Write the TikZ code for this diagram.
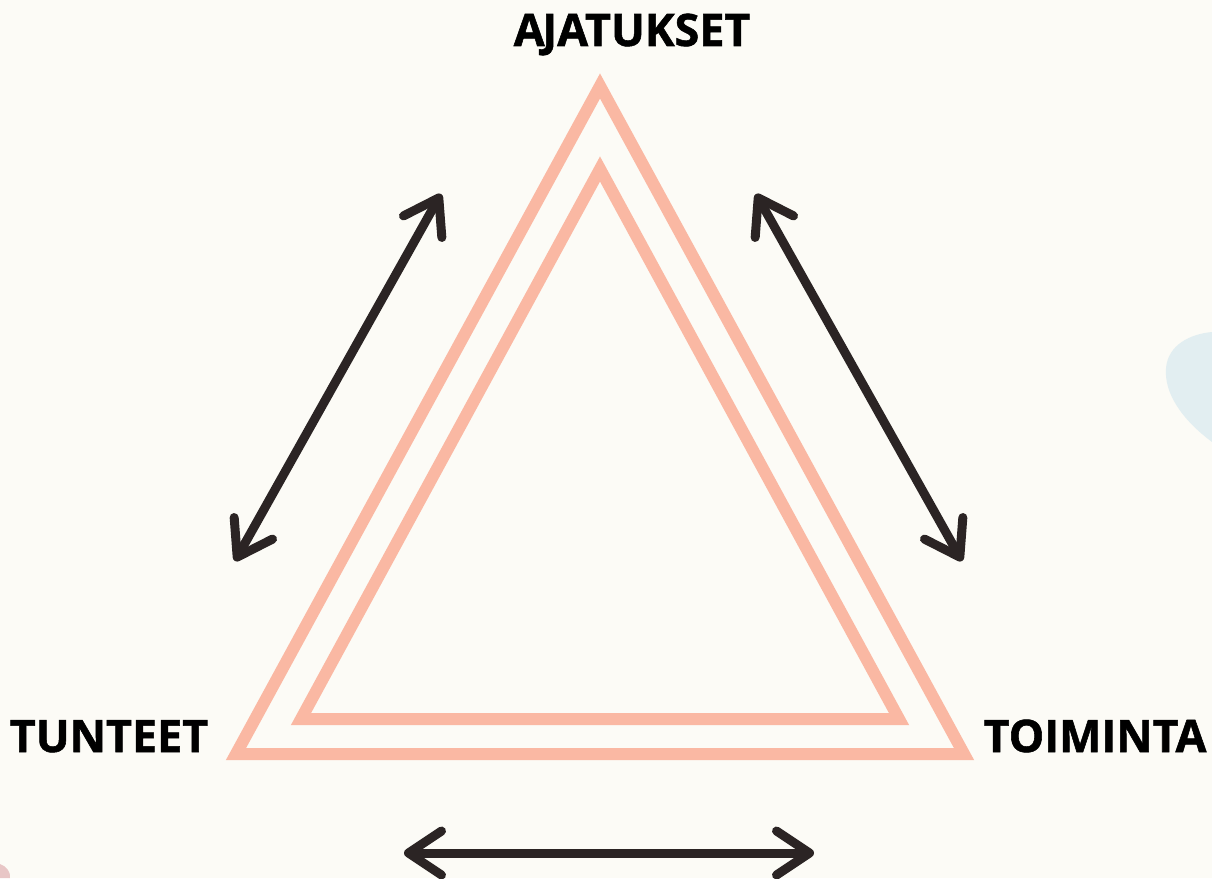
\documentclass[tikz,border=0pt]{standalone}
\usepackage{fontspec}
\setmainfont{Open Sans}[BoldFeatures={FakeBold=1.2}]
\usepackage{tikz}
\usetikzlibrary{arrows.meta, positioning}

\definecolor{paper}{HTML}{FCFBF6}
\definecolor{salmon}{HTML}{FAB8A3}
\definecolor{ink}{HTML}{2B2424}
\definecolor{wash}{HTML}{E2EEF1}
\definecolor{blush}{HTML}{E8C6C6}

\begin{document}
\begin{tikzpicture}[
    x=0.02cm, y=-0.02cm,
    frame/.style={draw=salmon, line width=0.24cm, line join=miter},
    arrow/.style={draw=ink, line width=0.18cm, line cap=round, <->,
        >={Straight Barb[length=0.66cm, width=0.88cm, line width=0.18cm, round]}},
    corner/.style={font=\fontsize{25.5}{30}\selectfont\bfseries, text=black, anchor=base, inner sep=0pt}
]
    % page
    \fill[paper] (0,0) rectangle (1212,878);
    \useasboundingbox (0,0) rectangle (1212,878);

    % watercolour bits at the edges
    \fill[wash] (1212,332) .. controls (1190,334) and (1168,345) .. (1166,368)
        .. controls (1164,392) and (1180,418) .. (1212,442) -- cycle;
    \fill[blush] (0,864) .. controls (6,866) and (11,872) .. (10,878) -- (0,878) -- cycle;

    % triangles
    \coordinate (top) at (600,86);
    \coordinate (left) at (236,754);
    \coordinate (right) at (964,754);
    \coordinate (itop) at (600,169);
    \coordinate (ileft) at (301,719);
    \coordinate (iright) at (899,719);
    \draw[frame] (top) -- (left) -- (right) -- cycle;
    \draw[frame] (itop) -- (ileft) -- (iright) -- cycle;

    % labels
    \node[corner] (ajatukset) at (632,46) {A\kern-0.05em JATUKSET};
    \node[corner] (tunteet) at (109,752) {TUNTEET};
    \node[corner] (toiminta) at (1095,752) {TOIMINTA};

    % arrow ends
    \coordinate (la) at (235,561);
    \coordinate (lb) at (441,194);
    \coordinate (ra) at (756,194);
    \coordinate (rb) at (962,561);
    \coordinate (ba) at (404,853);
    \coordinate (bb) at (814,853);

    \draw[arrow] (la) -- (lb);
    \draw[arrow] (ra) -- (rb);
    \draw[arrow] (ba) -- (bb);

\end{tikzpicture}
\end{document}
